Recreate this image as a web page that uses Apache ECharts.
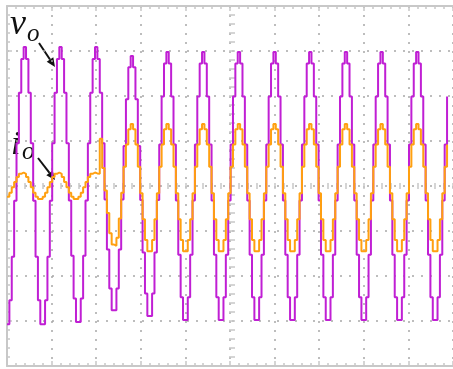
<!DOCTYPE html>
<html>
<head>
<meta charset="utf-8">
<script src="https://cdn.jsdelivr.net/npm/echarts@6.0.0/dist/echarts.min.js"></script>
<style>
  html, body { margin: 0; padding: 0; background: #fff; }
  #main { width: 453px; height: 369px; }
</style>
</head>
<body>
<div id="main"></div>
<script>
// scope capture: one sample = 2.4 px, 18.75 samples per horizontal division, 1 unit per vertical division
var vo = [
    -3.07, -2.54, -1.57, -0.33, 0.95, 2.07, 2.82, 3.09, 2.82, 2.07, 0.95, -0.33, -1.57, -2.54, -3.07,
    -3.07, -2.54, -1.57, -0.33, 0.95, 2.07, 2.82, 3.09, 2.82, 2.07, 0.95, -0.32, -1.55, -2.50, -3.02,
    -3.02, -2.50, -1.55, -0.32, 0.95, 2.07, 2.82, 3.09, 2.82, 2.07, 0.95, -0.30, -1.41, -2.28, -2.76,
    -2.76, -2.28, -1.41, -0.30, 0.89, 1.93, 2.64, 2.89, 2.64, 1.93, 0.89, -0.31, -1.48, -2.39, -2.89,
    -2.89, -2.39, -1.48, -0.31, 0.92, 1.99, 2.72, 2.98, 2.72, 1.99, 0.92, -0.32, -1.53, -2.47, -2.98,
    -2.98, -2.47, -1.53, -0.32, 0.92, 1.99, 2.72, 2.98, 2.72, 1.99, 0.92, -0.32, -1.53, -2.47, -2.98,
    -2.98, -2.47, -1.53, -0.32, 0.92, 1.99, 2.72, 2.98, 2.72, 1.99, 0.92, -0.32, -1.53, -2.47, -2.98,
    -2.98, -2.47, -1.53, -0.32, 0.92, 1.99, 2.72, 2.98, 2.72, 1.99, 0.92, -0.32, -1.53, -2.47, -2.98,
    -2.98, -2.47, -1.53, -0.32, 0.92, 1.99, 2.72, 2.98, 2.72, 1.99, 0.92, -0.32, -1.53, -2.47, -2.98,
    -2.98, -2.47, -1.53, -0.32, 0.92, 1.99, 2.72, 2.98, 2.72, 1.99, 0.92, -0.32, -1.53, -2.47, -2.98,
    -2.98, -2.47, -1.53, -0.32, 0.92, 1.99, 2.72, 2.98, 2.72, 1.99, 0.92, -0.32, -1.53, -2.47, -2.98,
    -2.98, -2.47, -1.53, -0.32, 0.92, 1.99, 2.72, 2.98, 2.72, 1.99, 0.92, -0.32, -1.53, -2.47, -2.98,
    -2.98, -2.47, -1.53, -0.32, 0.92, 1.99
];
var io = [
    -0.24, -0.15, -0.03, 0.09, 0.20, 0.27, 0.30, 0.27, 0.20, 0.09, -0.03, -0.15, -0.24, -0.29, -0.29,
    -0.24, -0.15, -0.03, 0.09, 0.20, 0.27, 0.30, 0.27, 0.20, 0.09, -0.03, -0.15, -0.24, -0.29, -0.29,
    -0.24, -0.15, -0.03, 0.09, 0.20, 0.27, 0.30, 0.28, 0.27, 1.05, 0.40, -0.10, -0.60, -1.05, -1.30,
    -1.33, -1.15, -0.72, -0.15, 0.43, 0.92, 1.26, 1.38, 1.26, 0.92, 0.43, -0.16, -0.74, -1.20, -1.45,
    -1.45, -1.20, -0.74, -0.16, 0.43, 0.92, 1.26, 1.38, 1.26, 0.92, 0.43, -0.16, -0.74, -1.20, -1.45,
    -1.45, -1.20, -0.74, -0.16, 0.43, 0.92, 1.26, 1.38, 1.26, 0.92, 0.43, -0.16, -0.74, -1.20, -1.45,
    -1.45, -1.20, -0.74, -0.16, 0.43, 0.92, 1.26, 1.38, 1.26, 0.92, 0.43, -0.16, -0.74, -1.20, -1.45,
    -1.45, -1.20, -0.74, -0.16, 0.43, 0.92, 1.26, 1.38, 1.26, 0.92, 0.43, -0.16, -0.74, -1.20, -1.45,
    -1.45, -1.20, -0.74, -0.16, 0.43, 0.92, 1.26, 1.38, 1.26, 0.92, 0.43, -0.16, -0.74, -1.20, -1.45,
    -1.45, -1.20, -0.74, -0.16, 0.43, 0.92, 1.26, 1.38, 1.26, 0.92, 0.43, -0.16, -0.74, -1.20, -1.45,
    -1.45, -1.20, -0.74, -0.16, 0.43, 0.92, 1.26, 1.38, 1.26, 0.92, 0.43, -0.16, -0.74, -1.20, -1.45,
    -1.45, -1.20, -0.74, -0.16, 0.43, 0.92, 1.26, 1.38, 1.26, 0.92, 0.43, -0.16, -0.74, -1.20, -1.45,
    -1.45, -1.20, -0.74, -0.16, 0.43, 0.92
];
var labels = ['v', 'o', 'i', 'o'];

var frameColor = '#c8c8c8';
var gridColor = '#a8a8a8';

function pairs(arr) {
    var out = [];
    for (var i = 0; i < arr.length; i++) out.push([i, arr[i]]);
    return out;
}

function scopeAxis(kind, position, opts) {
    return {
        type: 'value',
        position: position,
        min: kind == 'x' ? 0 : -4,
        max: kind == 'x' ? 187.5 : 4,
        interval: kind == 'x' ? 18.75 : 1,
        offset: opts.offset || 0,
        axisLine: {show: !!opts.line, onZero: false, lineStyle: {color: frameColor, width: 2}},
        axisTick: {show: true, inside: true, length: opts.tick, lineStyle: {color: frameColor, width: 1.5}},
        minorTick: {show: true, splitNumber: 5, length: opts.minor, lineStyle: {color: frameColor, width: 1.5}},
        axisLabel: {show: false},
        splitLine: {show: !!opts.split, lineStyle: {color: gridColor, width: 1.5, type: [2, 7]}}
    };
}

var myChart = echarts.init(document.getElementById('main'));
var option = {
    backgroundColor: '#fff',
    animation: false,
    grid: {left: 7, top: 6, width: 450, height: 360, containLabel: false},
    xAxis: [
        scopeAxis('x', 'bottom', {line: true, tick: 5, minor: 3, split: true}),
        scopeAxis('x', 'top', {line: true, tick: 5, minor: 3}),
        // centre crosshair ticks
        scopeAxis('x', 'bottom', {offset: -177, tick: 6, minor: 6})
    ],
    yAxis: [
        scopeAxis('y', 'left', {line: true, tick: 5, minor: 3, split: true}),
        scopeAxis('y', 'left', {offset: -222, tick: 6, minor: 6})
    ],
    series: [
        {
            name: 'vo',
            type: 'line',
            step: 'end',
            showSymbol: false,
            data: pairs(vo),
            lineStyle: {color: '#c01fd4', width: 2},
            itemStyle: {color: '#c01fd4'}
        },
        {
            name: 'io',
            type: 'line',
            step: 'end',
            showSymbol: false,
            data: pairs(io),
            lineStyle: {color: '#ffa010', width: 2},
            itemStyle: {color: '#ffa010'}
        }
    ],
    graphic: [
        {type: 'text', style: {text: labels[0], x: 10, y: 25, verticalAlign: 'middle', font: 'italic 36px "Liberation Serif"', fill: '#111'}},
        {type: 'text', style: {text: labels[1], x: 27, y: 34, verticalAlign: 'middle', font: 'italic 25px "Liberation Serif"', fill: '#111'}},
        {type: 'text', style: {text: labels[2], x: 11, y: 145, verticalAlign: 'middle', font: 'italic 34px "Liberation Serif"', fill: '#111'}},
        {type: 'text', style: {text: labels[3], x: 22, y: 152, verticalAlign: 'middle', font: 'italic 25px "Liberation Serif"', fill: '#111'}},
        {type: 'line', shape: {x1: 39, y1: 43, x2: 50, y2: 59.5}, style: {stroke: '#111', lineWidth: 2}},
        {type: 'polygon', shape: {points: [[55, 67], [46.7, 61.7], [53.3, 57.3]]}, style: {fill: '#111'}},
        {type: 'line', shape: {x1: 38, y1: 158, x2: 49.5, y2: 172.9}, style: {stroke: '#111', lineWidth: 2}},
        {type: 'polygon', shape: {points: [[55, 180], [46.3, 175.3], [52.7, 170.5]]}, style: {fill: '#111'}}
    ]
};
myChart.setOption(option);
</script>
</body>
</html>
